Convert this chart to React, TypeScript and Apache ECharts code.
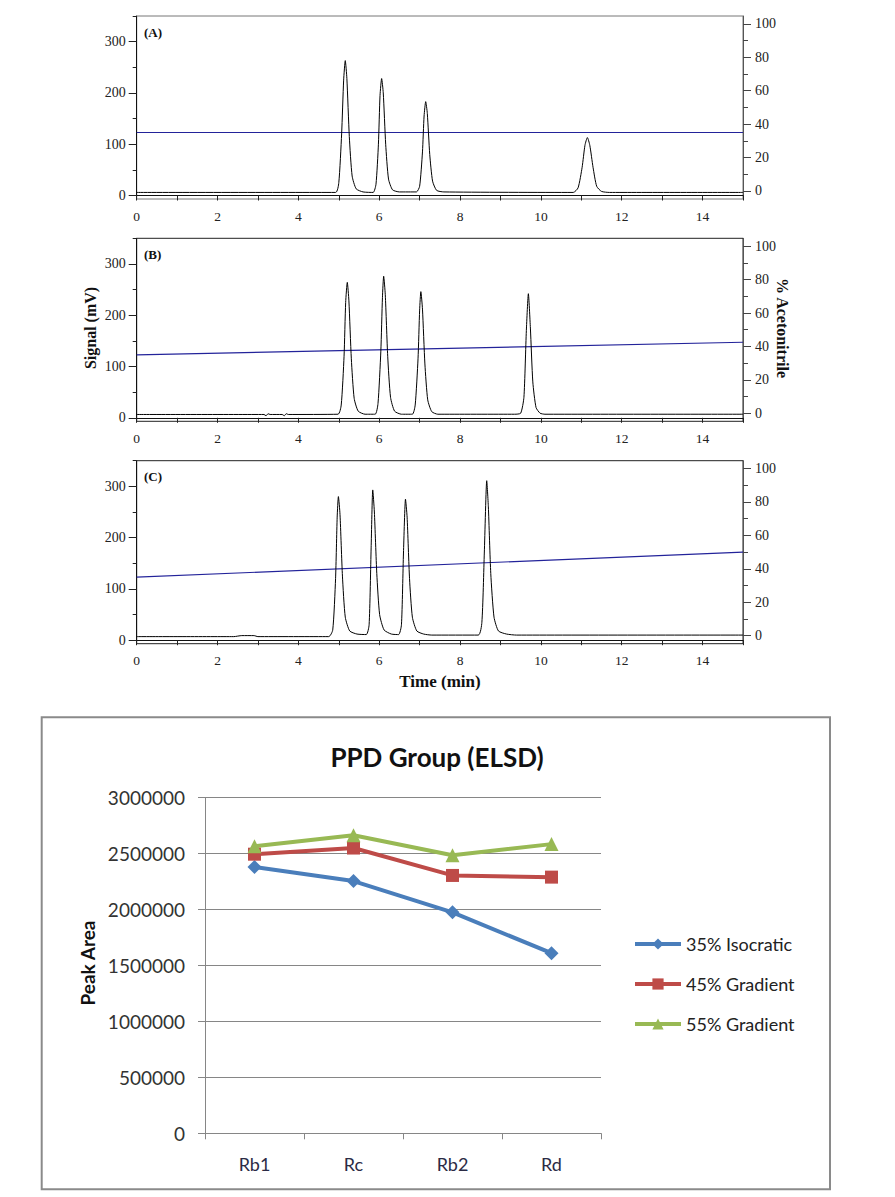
import React, { useEffect, useRef } from 'react';
import * as echarts from 'echarts';

// ---------- Data ----------
const timeMin = 0;
const timeMax = 15;
const signalLabelValues = [0, 100, 200, 300];
const signalMinorTickValues = [50, 150, 250, 350];
const acnLabelValues = [0, 20, 40, 60, 80, 100];
const acnMinorTickValues = [10, 30, 50, 70, 90];
const panelLabels = ['(A)', '(B)', '(C)'];

const signalA: [number, number][] = [
  [0, 6], [4.92, 6], [5.0, 25], [5.07, 120], [5.12, 225], [5.16, 263], [5.2, 228], [5.26, 115], [5.33, 38], [5.43, 13], [5.6, 7],
  [5.85, 6], [5.92, 22], [5.98, 100], [6.02, 195], [6.06, 228], [6.1, 200], [6.16, 100], [6.23, 32], [6.33, 11], [6.5, 7],
  [6.92, 7], [7.0, 18], [7.07, 85], [7.11, 155], [7.15, 183], [7.19, 160], [7.25, 80], [7.32, 28], [7.42, 10], [7.6, 7],
  [10.8, 6], [10.92, 15], [11.02, 55], [11.09, 98], [11.15, 113], [11.21, 98], [11.29, 55], [11.38, 18], [11.5, 8], [11.7, 6],
  [15, 6],
];

const signalB: [number, number][] = [
  [0, 6.5], [3.15, 6.5], [3.2, 4], [3.25, 8], [3.3, 6.5], [3.6, 6.5], [3.65, 4], [3.7, 8], [3.75, 6.5],
  [4.98, 7], [5.06, 25], [5.13, 120], [5.17, 225], [5.21, 264], [5.25, 228], [5.31, 115], [5.38, 38], [5.48, 13], [5.65, 7],
  [5.9, 7], [5.97, 28], [6.04, 130], [6.08, 235], [6.11, 276], [6.15, 240], [6.21, 120], [6.28, 40], [6.38, 13], [6.55, 7],
  [6.82, 7], [6.89, 25], [6.96, 115], [7.0, 210], [7.03, 246], [7.07, 212], [7.13, 105], [7.2, 35], [7.3, 12], [7.45, 7],
  [9.35, 7], [9.5, 9], [9.58, 40], [9.64, 170], [9.69, 242], [9.74, 175], [9.8, 70], [9.88, 20], [9.98, 9], [10.1, 7],
  [15, 7],
];

const signalC: [number, number][] = [
  [0, 7], [2.4, 7], [2.6, 9], [2.9, 9], [3.0, 7],
  [4.75, 7], [4.85, 20], [4.92, 120], [4.96, 240], [4.99, 280], [5.03, 245], [5.09, 125], [5.16, 45], [5.27, 18], [5.45, 12],
  [5.68, 11], [5.75, 30], [5.8, 180], [5.84, 293], [5.88, 250], [5.94, 130], [6.01, 50], [6.12, 20], [6.3, 12],
  [6.48, 11], [6.55, 30], [6.6, 170], [6.65, 275], [6.69, 240], [6.75, 120], [6.82, 45], [6.93, 18], [7.1, 12], [7.3, 10],
  [8.45, 10], [8.54, 35], [8.6, 170], [8.66, 311], [8.7, 260], [8.76, 130], [8.84, 45], [8.95, 18], [9.15, 12], [9.4, 10],
  [15, 10],
];

const acetonitrileA: [number, number][] = [[0, 35], [15, 35]];
const acetonitrileB: [number, number][] = [[0, 35], [15, 42.5]];
const acetonitrileC: [number, number][] = [[0, 35], [15, 50]];

const categories = ['Rb1', 'Rc', 'Rb2', 'Rd'];
const isocratic35 = [2380000, 2255000, 1975000, 1610000];
const gradient45 = [2495000, 2550000, 2305000, 2290000];
const gradient55 = [2565000, 2665000, 2485000, 2585000];
const areaMax = 3000000;
const areaInterval = 500000;

// ---------- Layout / style ----------
const SERIF = '"Liberation Serif", "Times New Roman", serif';
const SANS = 'Lato, "Open Sans", sans-serif';
const panelLeft = 136.7;
const panelWidth = 606.3;
const panelTops = [16, 238.3, 460.7];
const panelHeight = 183;
const leftRange = [-6.8, 350];
const rightRange = [-4.8, 104.7];

export default function App() {
  const ref = useRef<HTMLDivElement>(null);

  useEffect(() => {
    if (!ref.current) return;
    const chart = echarts.init(ref.current, null, { renderer: 'svg' });

    const signals = [signalA, signalB, signalC];
    const acns = [acetonitrileA, acetonitrileB, acetonitrileC];

    const grids: any[] = [];
    const xAxes: any[] = [];
    const yAxes: any[] = [];
    const series: any[] = [];
    const graphics: any[] = [];

    for (let i = 0; i < 3; i++) {
      grids.push({
        left: panelLeft, top: panelTops[i], width: panelWidth, height: panelHeight,
        show: true, borderColor: i === 0 ? '#777' : '#222', borderWidth: 1, backgroundColor: 'transparent',
        containLabel: false,
      });
      xAxes.push({
        gridIndex: i, type: 'value', min: timeMin, max: timeMax, interval: 1,
        axisLine: { show: true, lineStyle: { color: '#111', width: 1 } },
        axisTick: { show: true, length: 5, lineStyle: { color: '#222' } },
        axisLabel: {
          formatter: (v: number) => (v % 2 === 0 ? String(v) : ''),
          fontFamily: SERIF, fontSize: 13.5, color: '#222', margin: 10,
        },
        splitLine: { show: false },
      });
      // left major
      yAxes.push({
        gridIndex: i, type: 'value', position: 'left', min: leftRange[0], max: leftRange[1],
        axisLine: { show: true, onZero: false, lineStyle: { color: '#111' } },
        axisTick: { show: true, length: 8, customValues: signalLabelValues, lineStyle: { color: '#222' } },
        axisLabel: { customValues: signalLabelValues, fontFamily: SERIF, fontSize: 14, color: '#222', margin: 11 },
        splitLine: { show: false },
      });
      // left minor
      yAxes.push({
        gridIndex: i, type: 'value', position: 'left', min: leftRange[0], max: leftRange[1],
        axisLine: { show: false },
        axisTick: { show: true, length: 4, customValues: signalMinorTickValues, lineStyle: { color: '#222' } },
        axisLabel: { show: false },
        splitLine: { show: false },
      });
      // right major
      yAxes.push({
        gridIndex: i, type: 'value', position: 'right', min: rightRange[0], max: rightRange[1],
        axisLine: { show: true, onZero: false, lineStyle: { color: '#555' } },
        axisTick: { show: true, length: 8, customValues: acnLabelValues, lineStyle: { color: '#444' } },
        axisLabel: { customValues: acnLabelValues, fontFamily: SERIF, fontSize: 14, color: '#222', margin: 12 },
        splitLine: { show: false },
      });
      // right minor
      yAxes.push({
        gridIndex: i, type: 'value', position: 'right', min: rightRange[0], max: rightRange[1],
        axisLine: { show: false },
        axisTick: { show: true, length: 5, customValues: acnMinorTickValues, lineStyle: { color: '#444' } },
        axisLabel: { show: false },
        splitLine: { show: false },
      });
      series.push({
        type: 'line', xAxisIndex: i, yAxisIndex: 4 * i, data: signals[i],
        showSymbol: false, symbol: 'none', smooth: 0.2,
        lineStyle: { color: '#000', width: 1 }, z: 3,
      });
      series.push({
        type: 'line', xAxisIndex: i, yAxisIndex: 4 * i + 2, data: acns[i],
        showSymbol: false, symbol: 'none',
        lineStyle: { color: '#23239a', width: 1.2 }, z: 2,
      });
      graphics.push({
        type: 'text', x: 144, y: panelTops[i] + 16,
        style: { text: panelLabels[i], font: `bold 13px ${SERIF}`, fill: '#111', align: 'left', verticalAlign: 'middle' },
      });
    }

    // bottom chart
    grids.push({ left: 205, top: 797.7, width: 396, height: 335.6, show: false });
    xAxes.push({
      gridIndex: 3, type: 'category', data: categories, boundaryGap: true,
      axisLine: { show: true, lineStyle: { color: '#868686', width: 1 } },
      axisTick: { show: true, length: 6, lineStyle: { color: '#868686' } },
      axisLabel: { fontFamily: SANS, fontSize: 18, color: '#2b2b45', margin: 22 },
    });
    yAxes.push({
      gridIndex: 3, type: 'value', min: 0, max: areaMax, interval: areaInterval,
      axisLine: { show: true, lineStyle: { color: '#868686', width: 1 } },
      axisTick: { show: true, length: 7, lineStyle: { color: '#868686' } },
      axisLabel: { formatter: (v: number) => String(v), fontFamily: SANS, fontSize: 19, color: '#333', margin: 20 },
      splitLine: { show: true, lineStyle: { color: '#868686', width: 1 } },
    });
    const lineSeries = [
      { name: '35% Isocratic', data: isocratic35, color: '#4A7EBB', symbol: 'diamond', size: 14 },
      { name: '45% Gradient', data: gradient45, color: '#BE4B48', symbol: 'rect', size: 13 },
      { name: '55% Gradient', data: gradient55, color: '#98B954', symbol: 'triangle', size: 14 },
    ];
    for (const s of lineSeries) {
      series.push({
        name: s.name, type: 'line', xAxisIndex: 3, yAxisIndex: 12, data: s.data,
        symbol: s.symbol, symbolSize: s.size, showSymbol: true,
        lineStyle: { color: s.color, width: 4 },
        itemStyle: { color: s.color },
        z: 3,
      });
    }

    graphics.push(
      {
        type: 'text', x: 90, y: 328, rotation: Math.PI / 2,
        style: { text: 'Signal (mV)', font: `bold 16px ${SERIF}`, fill: '#111', align: 'center', verticalAlign: 'middle' },
      },
      {
        type: 'text', x: 782, y: 328, rotation: -Math.PI / 2,
        style: { text: '% Acetonitrile', font: `bold 16px ${SERIF}`, fill: '#111', align: 'center', verticalAlign: 'middle' },
      },
      {
        type: 'text', x: 440, y: 681,
        style: { text: 'Time (min)', font: `bold 17px ${SERIF}`, fill: '#111', align: 'center', verticalAlign: 'middle' },
      },
      {
        type: 'rect', shape: { x: 41.7, y: 717.3, width: 788.3, height: 472 },
        style: { fill: 'none', stroke: '#8a8a8a', lineWidth: 2 }, z: -1,
      },
      {
        type: 'text', x: 437, y: 757,
        style: { text: 'PPD Group (ELSD)', font: `bold 26px ${SANS}`, fill: '#111', align: 'center', verticalAlign: 'middle' },
      },
      {
        type: 'text', x: 87, y: 963, rotation: Math.PI / 2,
        style: { text: 'Peak Area', font: `bold 19px ${SANS}`, fill: '#111', align: 'center', verticalAlign: 'middle' },
      },
    );

    chart.setOption({
      animation: false,
      backgroundColor: '#fff',
      grid: grids,
      xAxis: xAxes,
      yAxis: yAxes,
      series,
      legend: {
        orient: 'vertical', left: 628, top: 930,
        itemWidth: 46, itemHeight: 14, itemGap: 22,
        lineStyle: { width: 4 },
        textStyle: { fontFamily: SANS, fontSize: 18, color: '#222' },
        data: lineSeries.map((s) => s.name),
      },
      graphic: graphics,
    });

    return () => chart.dispose();
  }, []);

  return (
    <div
      ref={ref}
      style={{ position: 'absolute', left: 0, top: 0, width: 895, height: 1197, background: '#fff' }}
    />
  );
}
